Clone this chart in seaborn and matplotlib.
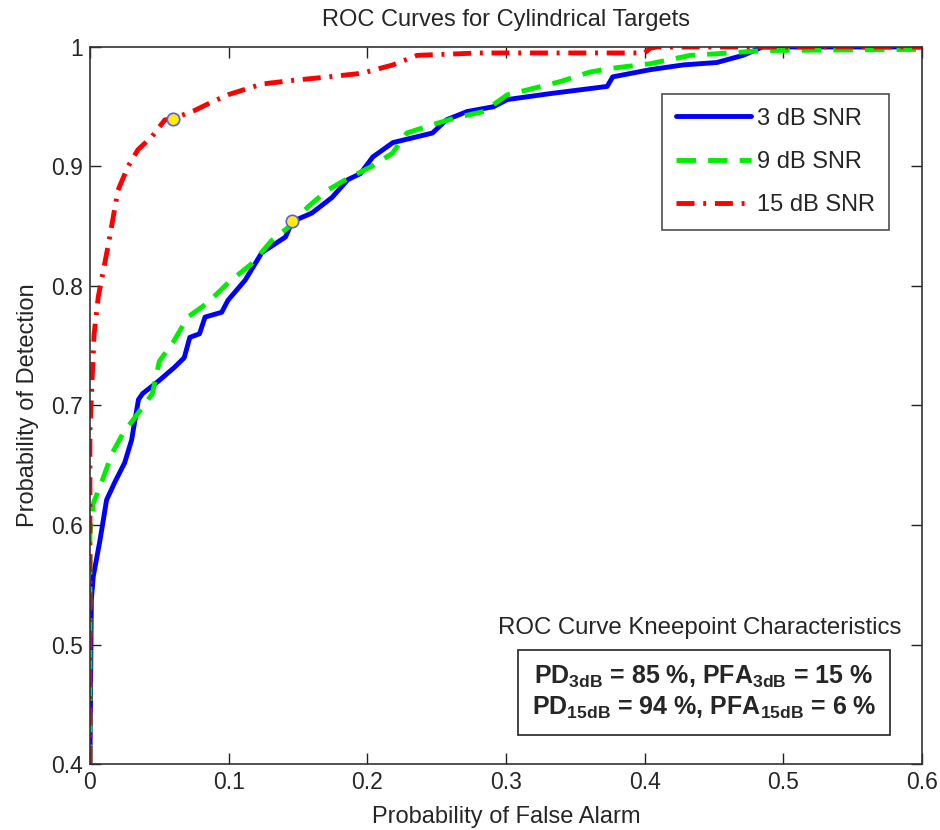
import pandas as pd
import matplotlib
matplotlib.use('Agg')
import matplotlib.pyplot as plt
import seaborn as sns

# ROC curve values
pfa_3db = [0, 0.001, 0.0024, 0.0072, 0.012, 0.018, 0.025, 0.030, 0.035, 0.038, 0.049,
           0.061, 0.068, 0.072, 0.079, 0.083, 0.095, 0.0995, 0.112, 0.124, 0.141, 0.146,
           0.160, 0.1745, 0.186, 0.195, 0.204, 0.2185, 0.247, 0.257, 0.272, 0.291, 0.301,
           0.332, 0.373, 0.377, 0.404, 0.428, 0.452, 0.471, 0.485, 0.6]
pd_3db = [0.4, 0.537, 0.557, 0.587, 0.621, 0.636, 0.652, 0.671, 0.705, 0.71, 0.72,
          0.732, 0.74, 0.757, 0.76, 0.774, 0.778, 0.788, 0.805, 0.828, 0.841, 0.854,
          0.861, 0.874, 0.889, 0.894, 0.908, 0.92, 0.928, 0.939, 0.946, 0.95, 0.956,
          0.961, 0.967, 0.975, 0.981, 0.985, 0.987, 0.993, 1.0, 1.0]

pfa_9db = [0, 0, 0.0024, 0.0072, 0.016, 0.024, 0.035, 0.045, 0.050, 0.060, 0.0706,
           0.085, 0.1, 0.117, 0.131, 0.143, 0.157, 0.171, 0.186, 0.203, 0.218, 0.2285,
           0.247, 0.2646, 0.284, 0.301, 0.322, 0.339, 0.3605, 0.375, 0.404, 0.433,
           0.4615, 0.485, 0.6]
pd_9db = [0.4, 0.593, 0.618, 0.632, 0.66, 0.677, 0.694, 0.71, 0.737, 0.753, 0.774,
          0.786, 0.803, 0.819, 0.838, 0.849, 0.866, 0.88, 0.89, 0.90, 0.911, 0.928,
          0.935, 0.941, 0.946, 0.96, 0.966, 0.971, 0.979, 0.982, 0.986, 0.993,
          0.995, 0.997, 0.998]

pfa_15db = [0, 0, 0.003, 0.006, 0.013, 0.0202, 0.0274, 0.0346, 0.0447, 0.054, 0.060,
            0.0757, 0.088, 0.0995, 0.124, 0.146, 0.172, 0.196, 0.2185, 0.236, 0.281,
            0.4, 0.404, 0.409, 0.6]
pd_15db = [0.4, 0.68, 0.76, 0.791, 0.833, 0.88, 0.9, 0.914, 0.925, 0.939, 0.94,
           0.947, 0.954, 0.96, 0.969, 0.972, 0.975, 0.978, 0.985, 0.993, 0.995,
           0.995, 0.999, 1.0, 1.0]

series_names = ['3 dB SNR', '9 dB SNR', '15 dB SNR']

# kneepoints
knee_pfa = [0.146, 0.060]
knee_pd = [0.854, 0.94]

frames = []
for name, xs, ys in zip(series_names, [pfa_3db, pfa_9db, pfa_15db],
                        [pd_3db, pd_9db, pd_15db]):
    frames.append(pd.DataFrame({'pfa': xs, 'pd': ys, 'snr': name}))
df = pd.concat(frames, ignore_index=True)

sns.set_style('ticks')
plt.rcParams['font.family'] = ['Liberation Sans', 'DejaVu Sans']
plt.rcParams['mathtext.fontset'] = 'custom'
plt.rcParams['mathtext.rm'] = 'Liberation Sans'
plt.rcParams['mathtext.bf'] = 'Liberation Sans:bold'

fig = plt.figure(figsize=(9.4, 8.3), dpi=100)
ax = fig.add_axes([0.0957, 0.0795, 0.8851, 0.8639])

palette = {'3 dB SNR': '#0000ff', '9 dB SNR': '#00ee00', '15 dB SNR': '#ff0000'}
dashes = {'3 dB SNR': '', '9 dB SNR': (4.0, 2.5), '15 dB SNR': (3.7, 1.8, 0.6, 1.8)}
sns.lineplot(data=df, x='pfa', y='pd', hue='snr', style='snr', palette=palette,
             dashes=dashes, estimator=None, sort=False, lw=3.5, ax=ax, legend=False)

ax.scatter(knee_pfa, knee_pd, s=80, color='#ffee00', edgecolor='#5a5aff',
           linewidth=1.2, zorder=5)

ax.set_xlim(0, 0.6)
ax.set_ylim(0.4, 1.0)
ax.set_xticks([0, 0.1, 0.2, 0.3, 0.4, 0.5, 0.6])
ax.set_xticklabels(['0', '0.1', '0.2', '0.3', '0.4', '0.5', '0.6'])
ax.set_yticks([0.4, 0.5, 0.6, 0.7, 0.8, 0.9, 1.0])
ax.set_yticklabels(['0.4', '0.5', '0.6', '0.7', '0.8', '0.9', '1'])
ax.tick_params(direction='in', length=8, width=1, top=True, right=True,
               labelsize=16.5, pad=5, color='#222222')
for sp in ax.spines.values():
    sp.set_color('#333333')
    sp.set_linewidth(1.2)

ax.set_title('ROC Curves for Cylindrical Targets', fontsize=17, pad=15)
ax.set_xlabel('Probability of False Alarm', fontsize=17, labelpad=9)
ax.set_ylabel('Probability of Detection', fontsize=17, labelpad=9)

leg = ax.legend(ax.get_lines()[:3], series_names, loc='upper right',
                bbox_to_anchor=(0.96, 0.935), fontsize=17, handlelength=3.15,
                labelspacing=0.9, borderpad=0.6, handletextpad=0.25,
                fancybox=False, frameon=True, borderaxespad=0)
leg.get_frame().set_edgecolor('#222222')
leg.get_frame().set_linewidth(1.2)

ax.text(0.733, 0.19, 'ROC Curve Kneepoint Characteristics', transform=ax.transAxes,
        ha='center', va='center', fontsize=17.3)
ax.text(0.738, 0.10,
        r'PD$_{\mathbf{3dB}}$ = 85 %, PFA$_{\mathbf{3dB}}$ = 15 %' + '\n'
        + r'PD$_{\mathbf{15dB}}$ = 94 %, PFA$_{\mathbf{15dB}}$ = 6 %',
        transform=ax.transAxes, ha='center', va='center', fontsize=18,
        fontweight='bold', linespacing=1.25,
        bbox=dict(boxstyle='square,pad=0.55', facecolor='white', edgecolor='#222222',
                  linewidth=1.2))

fig.savefig('out.png', dpi=100, facecolor='white')
